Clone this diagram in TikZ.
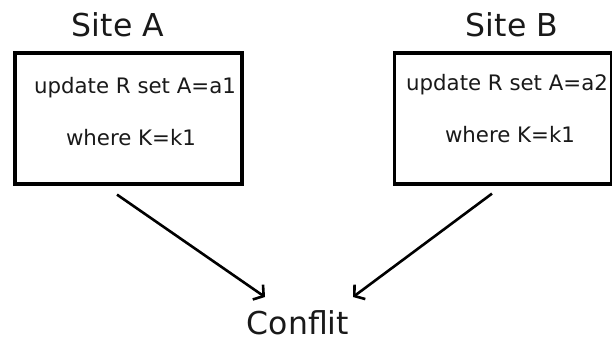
\documentclass[tikz,border=0pt]{standalone}
\usepackage{fontspec}
\setmainfont{DejaVu Sans}
\usetikzlibrary{arrows.meta}
\begin{document}
\begin{tikzpicture}[x=1pt,y=-1pt,
  sitebox/.style={draw=black,line width=3.2pt,inner sep=0pt},
  title/.style={font=\fontsize{31.5}{36}\selectfont,inner sep=0pt,text=black!90},
  stmt/.style={font=\fontsize{21.3}{24}\selectfont,inner sep=0pt,text=black!90},
  flow/.style={line width=2.6pt,-{Straight Barb[length=7pt,width=18pt,line width=2.6pt]}}]
  \useasboundingbox (0,0) rectangle (612,343);
  % site boxes
  \node[sitebox,minimum width=227pt,minimum height=131pt] (boxA) at (128.5,118.5) {};
  \node[sitebox,minimum width=217pt,minimum height=131pt] (boxB) at (503,118.5) {};
  % headings
  \node[title] (siteA) at (118,25) {Site A};
  \node[title] (siteB) at (512,25) {Site B};
  % statements
  \node[stmt] (updA) at (135,88) {update R set A=a1};
  \node[stmt] (whrA) at (131,138) {where K=k1};
  \node[stmt] (updB) at (507,85) {update R set A=a2};
  \node[stmt] (whrB) at (510,135) {where K=k1};
  % result
  \node[title] (conf) at (298,323) {Conflit};
  % connectors
  \draw[flow] ([shift={(-11.5,9)}]boxA.south) -- ([shift={(-33,-26)}]conf.center);
  \draw[flow] ([shift={(-11,8)}]boxB.south) -- ([shift={(55,-26)}]conf.center);
\end{tikzpicture}
\end{document}
